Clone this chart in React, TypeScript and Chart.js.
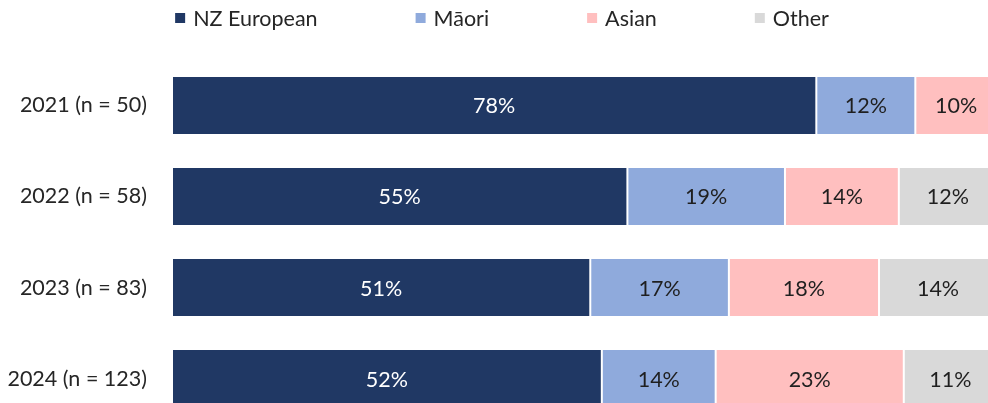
import React, { useEffect, useRef } from "react";
import { Chart, registerables } from "chart.js";

Chart.register(...registerables);

const categories = ["2021 (n = 50)", "2022 (n = 58)", "2023 (n = 83)", "2024 (n = 123)"];
const seriesNames = ["NZ European", "Māori", "Asian", "Other"];
const nzEuropean = [78.1, 55.2, 50.7, 52.1];
const maori = [12.0, 19.1, 16.8, 13.8];
const asian = [9.9, 13.8, 18.2, 22.8];
const other = [0, 11.9, 14.3, 11.3];
const seriesColors = ["#203864", "#8FAADC", "#FFBFBF", "#D9D9D9"];
const labelColors = ["#FFFFFF", "#1F1F1F", "#1F1F1F", "#1F1F1F"];

const FONT = "Lato";
const FONT_SIZE = 21.5;

const dataLabelPlugin = {
  id: "segLabels",
  afterDatasetsDraw(chart: any) {
    const ctx = chart.ctx;
    ctx.save();
    ctx.font = `${FONT_SIZE}px ${FONT}`;
    ctx.textAlign = "center";
    ctx.textBaseline = "middle";
    chart.data.datasets.forEach((ds: any, di: number) => {
      const meta = chart.getDatasetMeta(di);
      meta.data.forEach((el: any, i: number) => {
        const v = ds.data[i];
        if (!v) return;
        ctx.fillStyle = labelColors[di];
        ctx.fillText(`${Math.round(v)}%`, (el.x + el.base) / 2, el.y + 1);
      });
    });
    ctx.restore();
  },
};

const legendPlugin = {
  id: "customLegend",
  afterDraw(chart: any) {
    const ctx = chart.ctx;
    ctx.save();
    ctx.font = `${FONT_SIZE}px ${FONT}`;
    ctx.textBaseline = "middle";
    ctx.textAlign = "left";
    const box = 10;
    const gapText = 8;
    const gapItem = 98;
    const widths = seriesNames.map((n) => box + gapText + ctx.measureText(n).width);
    const total = widths.reduce((a, b) => a + b, 0) + gapItem * (seriesNames.length - 1);
    let x = 502 - total / 2;
    const y = 19;
    seriesNames.forEach((n, i) => {
      ctx.fillStyle = seriesColors[i];
      ctx.fillRect(x, y - box / 2 - 1, box, box);
      ctx.fillStyle = "#262626";
      ctx.fillText(n, x + box + gapText, y);
      x += widths[i] + gapItem;
    });
    ctx.restore();
  },
};

export default function App() {
  const ref = useRef<HTMLCanvasElement>(null);
  useEffect(() => {
    if (!ref.current) return;
    const values = [nzEuropean, maori, asian, other];
    const chart = new Chart(ref.current, {
      type: "bar",
      data: {
        labels: categories,
        datasets: seriesNames.map((name, i) => ({
          label: name,
          data: values[i],
          backgroundColor: seriesColors[i],
          borderColor: "#FFFFFF",
          borderWidth: { left: 1, right: 1, top: 1, bottom: 1 },
          borderSkipped: false,
          categoryPercentage: 1,
          barPercentage: 0.648,
        })),
      },
      options: {
        indexAxis: "y",
        animation: false,
        responsive: false,
        maintainAspectRatio: false,
        devicePixelRatio: 1,
        layout: { padding: { top: 60, right: 3, bottom: 6, left: 0 } },
        plugins: {
          legend: { display: false },
          tooltip: { enabled: false },
        },
        scales: {
          x: {
            stacked: true,
            min: 0,
            max: 100,
            display: false,
          },
          y: {
            stacked: true,
            grid: { display: false, drawTicks: false },
            border: { display: false },
            ticks: {
              padding: 25,
              color: "#262626",
              font: { family: FONT, size: FONT_SIZE },
            },
            afterFit(scale: any) {
              scale.width = 172;
            },
          },
        },
      },
      plugins: [dataLabelPlugin, legendPlugin],
    });
    return () => chart.destroy();
  }, []);

  return (
    <div
      style={{
        position: "fixed",
        left: 0,
        top: 0,
        width: 988,
        height: 403,
        overflow: "hidden",
        background: "#fff",
      }}
    >
      <canvas ref={ref} width={1000} height={462} style={{ display: "block", width: 1000, height: 462 }} />
    </div>
  );
}
